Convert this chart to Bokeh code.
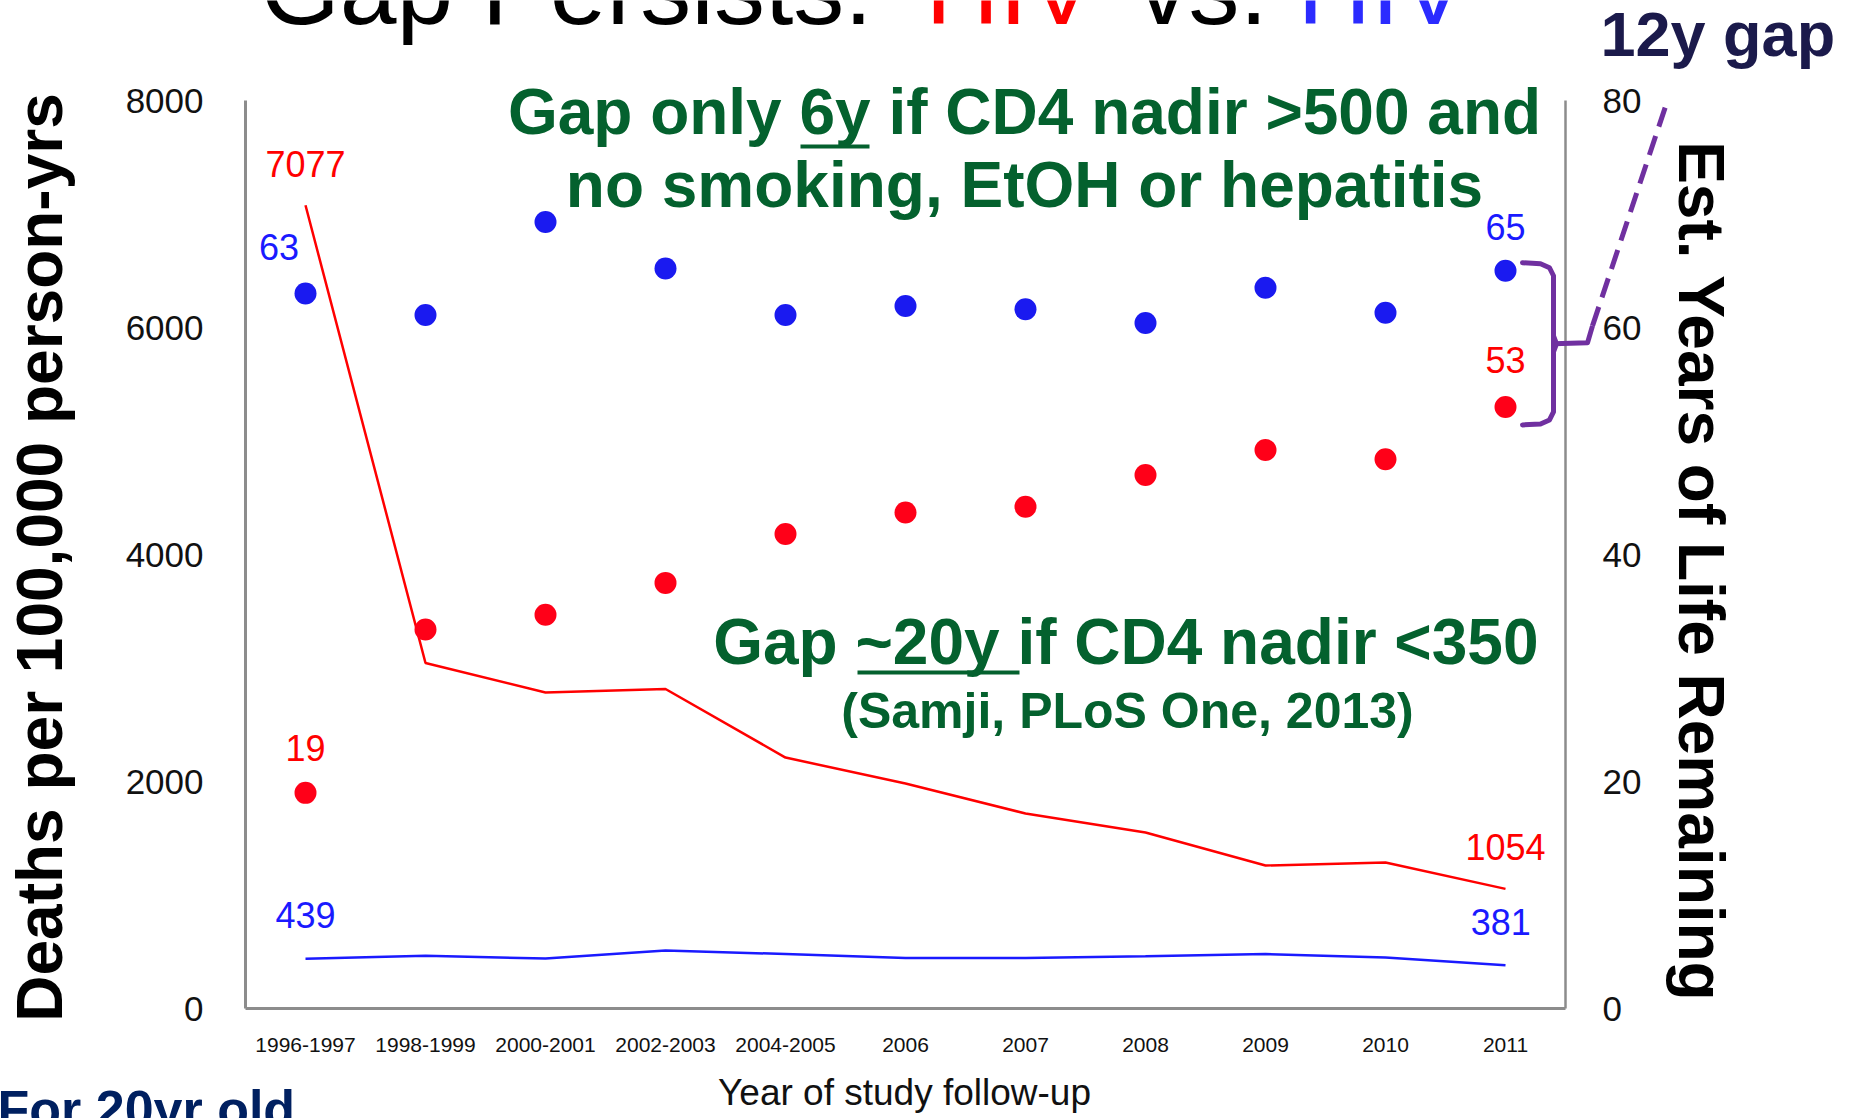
import math
from bokeh.plotting import figure
from bokeh.models import Range1d, Label, Arrow
from bokeh.core.properties import value
from bokeh.embed import file_html
from bokeh.resources import INLINE

# ---------------- data ----------------
categories = ["1996-1997", "1998-1999", "2000-2001", "2002-2003", "2004-2005",
              "2006", "2007", "2008", "2009", "2010", "2011"]
hiv_pos_deaths = [7077, 3044, 2784, 2815, 2211, 1982, 1718, 1551, 1260, 1286, 1054]
hiv_neg_deaths = [439, 465, 440, 510, 480, 445, 445, 460, 480, 450, 381]
hiv_neg_years = [63, 61.1, 69.3, 65.2, 61.1, 61.9, 61.6, 60.4, 63.5, 61.3, 65]
hiv_pos_years = [19, 33.4, 34.7, 37.5, 41.8, 43.7, 44.2, 47.0, 49.2, 48.4, 53]
left_ticks = [0, 2000, 4000, 6000, 8000]
right_ticks = [0, 20, 40, 60, 80]
left_max, right_max = 8000, 80

# ---------------- layout (page pixels; canvas sits at page 0,0) ----------------
W, H = 1855, 1118
AX_L, AX_R = 245, 1565       # plot area left / right edge
AX_T, AX_B = 100, 1008       # plot area top / bottom edge
n = len(categories)
PX_X = (AX_R - AX_L) / n
PX_D = (AX_B - AX_T) / left_max
PX_Y = (AX_B - AX_T) / right_max

# ranges chosen so that the whole canvas is the frame
x_lo = -0.5 - AX_L / PX_X
x_hi = x_lo + W / PX_X
y_lo = -(H - AX_B) / PX_D
y_hi = y_lo + H / PX_D
yy_lo = y_lo * right_max / left_max
yy_hi = y_hi * right_max / left_max

RED = "#ff0000"
BLUE = "#1a1aff"
GREEN = "#04612e"
PURPLE = "#7030a0"
AXIS = "#8c8c8c"
SANS = "Liberation Sans"
SHIFT = 0.37   # Label draws its baseline this many em below its anchor

p = figure(width=W, height=H, output_backend="svg", toolbar_location=None,
           x_range=Range1d(x_lo, x_hi), y_range=Range1d(y_lo, y_hi),
           x_axis_location=None, y_axis_location=None,
           min_border=0, background_fill_color="white", border_fill_color="white",
           outline_line_color=None)
p.extra_y_ranges = {"years": Range1d(yy_lo, yy_hi)}
p.grid.visible = False

xs = list(range(n))
x_left, x_right = -0.5, n - 0.5
last = n - 1

# ---------------- axes (drawn on the plot's scales) ----------------
p.segment(x0=[x_left], y0=[0], x1=[x_left], y1=[left_max], line_color=AXIS, line_width=3)
p.segment(x0=[x_left], y0=[0], x1=[x_right], y1=[0], line_color=AXIS, line_width=3)
p.segment(x0=[x_right], y0=[0], x1=[x_right], y1=[left_max], line_color=AXIS, line_width=2.5)

tick_font = dict(text_font=value(SANS), text_color="#111111", text_baseline="middle")
p.text(x=[x_left] * len(left_ticks), y=left_ticks, text=[str(t) for t in left_ticks],
       x_offset=-42, text_align="right", text_font_size="35px", **tick_font)
p.text(x=[x_right] * len(right_ticks), y=right_ticks, text=[str(t) for t in right_ticks],
       x_offset=37, text_align="left", text_font_size="35px", y_range_name="years",
       **tick_font)
p.text(x=xs, y=[-36 / PX_D] * n, text=categories, text_align="center",
       text_font_size="21px", **tick_font)

# ---------------- series ----------------
p.line(xs, hiv_pos_deaths, line_color=RED, line_width=2.5)
p.line(xs, hiv_neg_deaths, line_color=BLUE, line_width=2.5)
p.scatter(xs, hiv_neg_years, size=22, fill_color="#1a1af0", line_color=None,
          y_range_name="years")
p.scatter(xs, hiv_pos_years, size=22, fill_color="#ff0018", line_color=None,
          y_range_name="years")

# ---------------- value labels (centred above the first / last marks) ----------------
lab_font = dict(text_font=value(SANS), text_font_size="36px",
                text_align="center", text_baseline="middle")
p.text(x=[0, last], y=[hiv_pos_deaths[0] + 41 / PX_D, hiv_pos_deaths[-1] + 42 / PX_D],
       text=[str(hiv_pos_deaths[0]), str(hiv_pos_deaths[-1])], text_color=RED, **lab_font)
p.text(x=[0, last - 0.04], y=[hiv_neg_deaths[0] + 44 / PX_D, hiv_neg_deaths[-1] + 43 / PX_D],
       text=[str(hiv_neg_deaths[0]), str(hiv_neg_deaths[-1])], text_color=BLUE, **lab_font)
p.text(x=[-0.22, last], y=[hiv_neg_years[0] + 46 / PX_Y, hiv_neg_years[-1] + 44 / PX_Y],
       text=[str(round(hiv_neg_years[0])), str(round(hiv_neg_years[-1]))],
       text_color=BLUE, y_range_name="years", **lab_font)
p.text(x=[0, last], y=[hiv_pos_years[0] + 45 / PX_Y, hiv_pos_years[-1] + 47 / PX_Y],
       text=[str(round(hiv_pos_years[0])), str(round(hiv_pos_years[-1]))],
       text_color=RED, y_range_name="years", **lab_font)

# ---------------- brace (gap at 2011) ----------------
top = hiv_neg_years[-1] + 8 / PX_Y
bot = hiv_pos_years[-1] - 18 / PX_Y
mid = (top + bot) / 2
brace_px = [(17, top, 0), (35, top, 1), (44, top, 5), (48, top, 13),
            (48, mid, 8), (51, mid, 0), (48, mid, -8),
            (48, bot, -13), (44, bot, -5), (35, bot, -1), (17, bot, 0)]
bx = [last + dx / PX_X for dx, _, _ in brace_px]
by = [yv - dy / PX_Y for _, yv, dy in brace_px]
p.line(bx, by, line_color=PURPLE, line_width=5, line_join="round", line_cap="round",
       y_range_name="years")
nub_x = [last + d / PX_X for d in (48, 82, 87)]
nub_y = [mid, mid + 1 / PX_Y, mid + 18 / PX_Y]
p.line(nub_x, nub_y, line_color=PURPLE, line_width=5, line_join="round",
       y_range_name="years")
p.line([nub_x[-1], last + 162 / PX_X], [nub_y[-1], right_max], line_color=PURPLE,
       line_width=5, line_dash="20 10", y_range_name="years")


# ---------------- texts ----------------
def lab(text, X, Y, size, color="black", bold=False, align="left", angle=0.0):
    """X, Y: page position of the text baseline anchor."""
    d = SHIFT * size
    if angle == 0.0:
        ax, ay = X, Y - d
    elif angle > 0:
        ax, ay = X - d, Y
    else:
        ax, ay = X + d, Y
    p.add_layout(Label(x=ax, y=H - ay, x_units="screen", y_units="screen", text=text,
                       text_font=SANS, text_font_size=f"{size}px", text_color=color,
                       text_font_style="bold" if bold else "normal",
                       text_align=align, text_baseline="alphabetic", angle=angle))


def uline(X0, X1, Y, color):
    p.add_layout(Arrow(end=None, x_start=X0, y_start=H - Y, x_end=X1, y_end=H - Y,
                       start_units="screen", end_units="screen",
                       line_color=color, line_width=4))


# title (cut by the top edge, as in the original slide)
lab("Gap Persists:", 260, 26, 102)
lab("HIV", 925, 26, 102, RED)
lab("vs.", 1137, 26, 102)
lab("HIV", 1297, 26, 102, "#2b2bff")

lab("12y gap", 1600, 57, 63, "#1b1a4b", bold=True)

lab("Gap only 6y if CD4 nadir >500 and", 1024, 135, 64, GREEN, bold=True, align="center")
uline(800, 869, 146, GREEN)
lab("no smoking, EtOH or hepatitis", 1024, 208, 64, GREEN, bold=True, align="center")
lab("Gap ~20y if CD4 nadir <350", 1538, 665, 64, GREEN, bold=True, align="right")
uline(857, 1019, 672, GREEN)
lab("(Samji, PLoS One, 2013)", 1127, 729, 50, GREEN, bold=True, align="center")

lab("Deaths per 100,000 person-yrs", 63, 557, 64, bold=True, align="center",
    angle=math.pi / 2)
lab("Est. Years of Life Remaining", 1677, 571, 64, bold=True, align="center",
    angle=-math.pi / 2)
lab("Year of study follow-up", 904, 1106, 37, "#111111", align="center")
lab("For 20yr old", -3, 1128, 52, "#002060", bold=True)

open("out.html", "w").write(file_html(p, INLINE))
